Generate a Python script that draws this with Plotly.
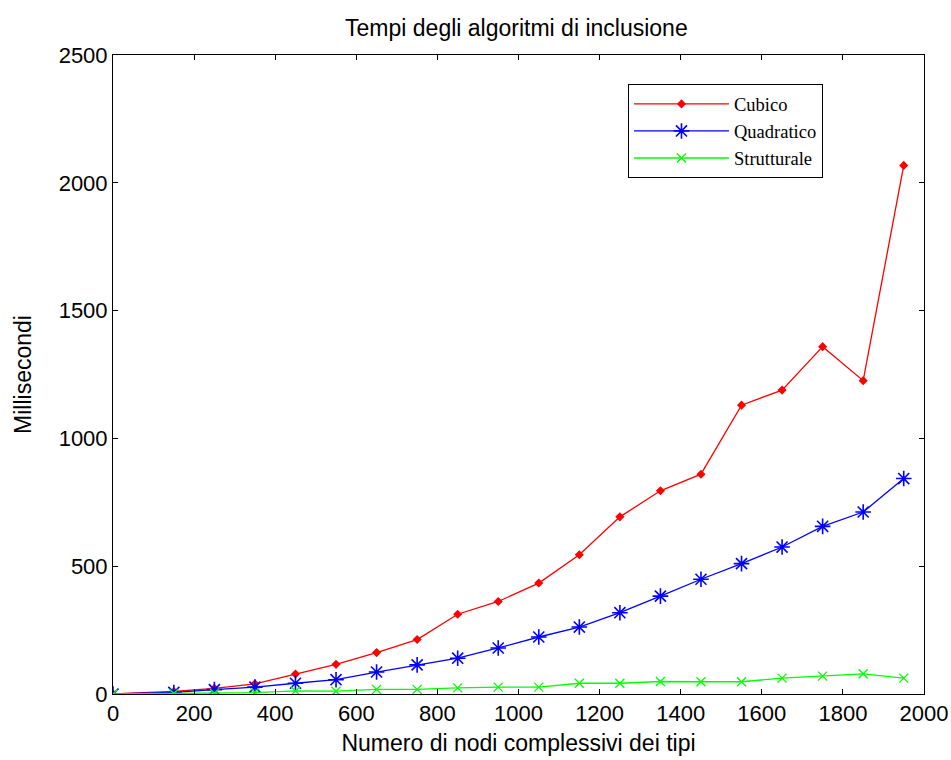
import plotly.graph_objects as go

x_vals = [0, 150, 250, 350, 450, 550, 650, 750, 850, 950, 1050, 1150, 1250, 1350, 1450, 1550, 1650, 1750, 1850, 1950]
cubico = [0, 10, 22, 40, 78, 116, 162, 213, 312, 362, 434, 545, 693, 795, 860, 1130, 1189, 1359, 1226, 2068]
quadratico = [0, 6, 17, 27, 42, 56, 86, 114, 140, 180, 223, 262, 318, 383, 449, 510, 575, 656, 712, 843]
strutturale = [0, 2, 3, 5, 12, 11, 18, 18, 24, 27, 27, 42, 42, 49, 48, 48, 62, 70, 79, 62]

SANS = "Liberation Sans, Arial"
SERIF = "Liberation Serif, Times New Roman"

fig = go.Figure()
fig.add_trace(go.Scatter(x=x_vals, y=cubico, name="Cubico", mode="lines+markers",
                         line=dict(color="#ff0000", width=1.3),
                         marker=dict(symbol="diamond", size=7, color="#ff0000")))
fig.add_trace(go.Scatter(x=x_vals, y=quadratico, name="Quadratico", mode="lines+markers",
                         line=dict(color="#0000ff", width=1.3),
                         marker=dict(symbol="asterisk-open", size=13, color="#0000ff",
                                     line=dict(color="#0000ff", width=1.6))))
fig.add_trace(go.Scatter(x=x_vals, y=strutturale, name="Strutturale", mode="lines+markers",
                         line=dict(color="#00ff00", width=1.3),
                         marker=dict(symbol="x-thin-open", size=9, color="#00ff00",
                                     line=dict(color="#00ff00", width=1.3))))

axis_common = dict(showline=True, linecolor="black", linewidth=1, mirror="ticks",
                   ticks="inside", ticklen=5, tickcolor="black", showgrid=False,
                   zeroline=False, automargin=False,
                   tickfont=dict(family=SANS, size=22, color="black"))

fig.update_layout(
    width=951, height=760,
    margin=dict(l=113, r=27, t=55, b=66),
    paper_bgcolor="white", plot_bgcolor="white",
    title=dict(text="Tempi degli algoritmi di inclusione", x=0.543, xanchor="center",
               y=0.963, yanchor="middle",
               font=dict(family=SANS, size=23, color="black")),
    xaxis=dict(range=[0, 2000], tickvals=[0, 200, 400, 600, 800, 1000, 1200, 1400, 1600, 1800, 2000],
               title=dict(text="Numero di nodi complessivi dei tipi", standoff=9,
                          font=dict(family=SANS, size=23, color="black")),
               **axis_common),
    yaxis=dict(range=[0, 2500], tickvals=[0, 500, 1000, 1500, 2000, 2500],
               title=dict(text="Millisecondi", standoff=20,
                          font=dict(family=SANS, size=23, color="black")),
               **axis_common),
    legend=dict(x=0.635, y=0.954, xanchor="left", yanchor="top",
                bgcolor="white", bordercolor="black", borderwidth=1,
                font=dict(family=SERIF, size=18.5, color="black"),
                itemwidth=95, tracegroupgap=0),
    showlegend=True,
)

fig.write_html("out.html")
